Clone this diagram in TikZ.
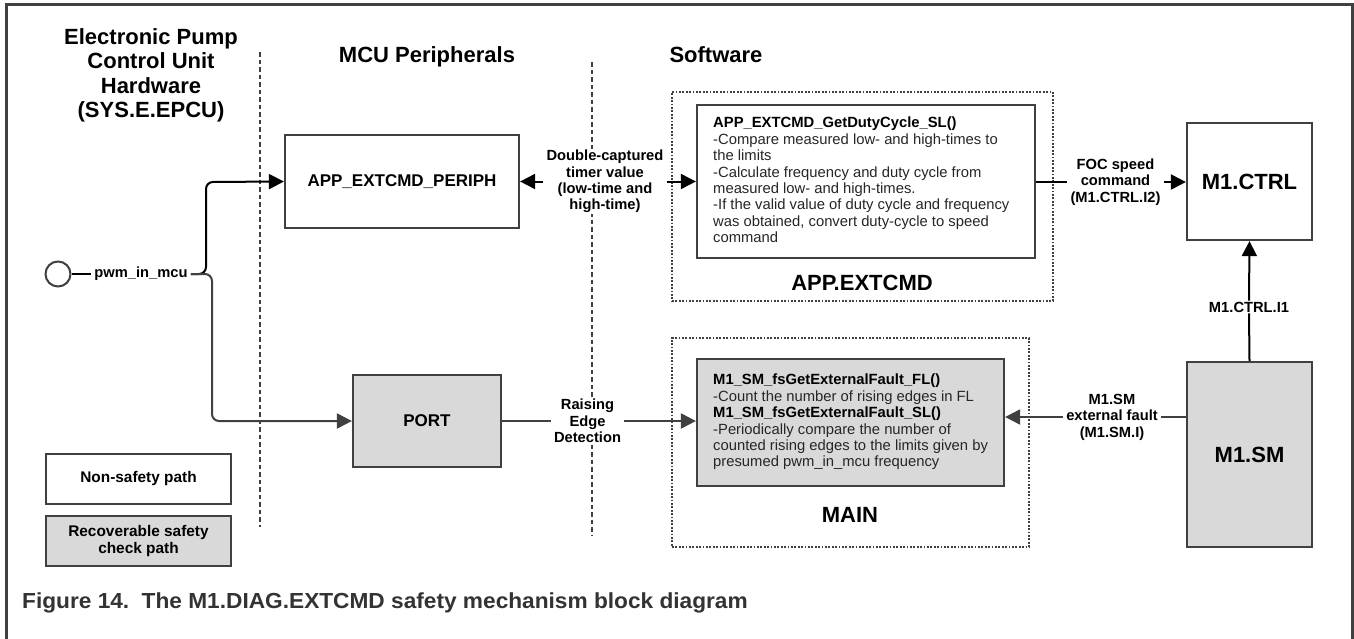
\documentclass[tikz,border=0pt]{standalone}
\usepackage{fontspec}
\setmainfont{Liberation Sans}
\usetikzlibrary{arrows.meta}
\definecolor{dg}{HTML}{404040}
\definecolor{lg}{HTML}{D9D9D9}
\definecolor{txt}{HTML}{262626}
\definecolor{capc}{HTML}{333333}
\tikzset{
  titletext/.style={font=\fontsize{22}{24.5}\selectfont\bfseries, align=center, inner sep=0pt},
  box/.style={draw=dg, line width=2.2pt, inner sep=0pt, font=\fontsize{17}{20}\selectfont\bfseries},
  bigbox/.style={box, font=\fontsize{22}{24}\selectfont\bfseries},
  legbox/.style={draw=dg, line width=2pt, inner sep=0pt, align=center, font=\fontsize{15.4}{16.5}\selectfont\bfseries},
  dotbox/.style={draw=dg, line width=1.8pt, dash pattern=on 1.8pt off 1.6pt, inner sep=0pt},
  body/.style={font=\fontsize{14.8}{16.4}\selectfont, align=left, inner sep=0pt, text=txt},
  lab/.style={font=\fontsize{14.7}{16.4}\selectfont\bfseries, align=center, fill=white, inner xsep=3pt, inner ysep=1pt},
  sepline/.style={dg, line width=1.2pt, dash pattern=on 4.5pt off 3pt},
  conn/.style={black, line width=2pt},
  conng/.style={dg, line width=2pt},
  tipk/.style={-{Triangle[length=15pt,width=15pt]}},
  tipg/.style={-{Triangle[length=15pt,width=15pt]}},
}
\begin{document}
\begin{tikzpicture}[x=1pt,y=-1pt]
\useasboundingbox[fill=white] (0,0) rectangle (1354,638);
% frame
\draw[dg, line width=3pt] (6,645) -- (6,4) -- (1352,4) -- (1352,645);

% separators
\coordinate (s1t) at (260,52);
\coordinate (s1b) at (260,527);
\coordinate (s2t) at (592,62);
\coordinate (s2b) at (592,535);
\draw[sepline] (s1t) -- (s1b);
\draw[sepline] (s2t) -- (s2b);

% titles
\node[titletext] (hw) at (151,75.5) {Electronic Pump\\Control Unit\\Hardware\\(SYS.E.EPCU)};
\node[titletext, anchor=base] (mcu) at (427,62.5) {MCU Peripherals};
\node[titletext, anchor=base] (sw) at (716,62.5) {Software};

% dotted groups
\node[dotbox, minimum width=381pt, minimum height=209pt] (appx) at (862.5,196.5) {};
\node[titletext, anchor=base] (appxl) at (862,290) {APP.EXTCMD};
\node[dotbox, minimum width=357pt, minimum height=209pt] (mainx) at (850.5,442.5) {};
\node[titletext, anchor=base] (mainxl) at (850,522) {MAIN};

% boxes
\node[box, minimum width=234pt, minimum height=93pt] (periph) at (402,181.5) {APP\_EXTCMD\_PERIPH};
\node[box, fill=lg, minimum width=148pt, minimum height=92pt] (port) at (427,421) {PORT};
\node[box, minimum width=338pt, minimum height=153pt] (app) at (866,181.5) {};
\node[body, anchor=north west] (apptxt) at (713,117) {\textbf{\textcolor{black}{APP\_EXTCMD\_GetDutyCycle\_SL()}}\\
-Compare measured low- and high-times to\\
the limits\\
-Calculate frequency and duty cycle from\\
measured low- and high-times.\\
-If the valid value of duty cycle and frequency\\
was obtained, convert duty-cycle to speed\\
command};
\node[box, fill=lg, minimum width=307pt, minimum height=127pt] (main) at (850.5,422.5) {};
\node[body, anchor=north west] (maintxt) at (713,374) {\textbf{\textcolor{black}{M1\_SM\_fsGetExternalFault\_FL()}}\\
-Count the number of rising edges in FL\\
\textbf{\textcolor{black}{M1\_SM\_fsGetExternalFault\_SL()}}\\
-Periodically compare the number of\\
counted rising edges to the limits given by\\
presumed pwm\_in\_mcu frequency};
\node[bigbox, minimum width=125pt, minimum height=117pt] (ctrl) at (1249.5,181.5) {M1.CTRL};
\node[bigbox, fill=lg, minimum width=125pt, minimum height=185pt] (sm) at (1249.5,454.5) {M1.SM};

% legend
\node[legbox, minimum width=185pt, minimum height=50pt] (leg1) at (138.5,479) {Non-safety path};
\node[legbox, fill=lg, minimum width=185pt, minimum height=50pt] (leg2) at (138.5,541) {Recoverable safety\\check path};

% input
\node[draw=dg, circle, line width=2pt, minimum size=25pt, inner sep=0pt] (pin) at (58,274) {};
\node[lab, fill=none] (pwm) at (141,274) {pwm\_in\_mcu};
\draw[conn] (pin.east) -- (pwm.west);
\draw[conn, tipk, rounded corners=7pt] (pwm.east) -| (206,182) -- (periph.west);
\draw[conng, tipg, rounded corners=7pt] (pwm.east) -| (212,421) -- (port.west);

% labels
\node[lab] (dc) at (605,181.5) {Double-captured\\timer value\\(low-time and\\high-time)};
\node[lab] (red) at (587.5,421) {Raising\\Edge\\Detection};
\node[lab] (foc) at (1115.5,182) {FOC speed\\command\\(M1.CTRL.I2)};
\node[lab] (ext) at (1112,417) {M1.SM\\external fault\\(M1.SM.I)};
\node[lab] (i1) at (1249,307) {M1.CTRL.I1};

% connectors
\draw[conn, tipk] (dc.west) -- (dc.west -| periph.east);
\draw[conn, tipk] (dc.east) -- (dc.east -| app.west);
\draw[conn] (foc.west -| app.east) -- (foc.west);
\draw[conn, tipk] (foc.east) -- (foc.east -| ctrl.west);
\draw[conng] (red.west -| port.east) -- (red.west);
\draw[conng, tipg] (red.east) -- (red.east -| main.west);
\draw[conng] (ext.east -| sm.west) -- (ext.east);
\draw[conng, tipg] (ext.west) -- (ext.west -| main.east);
\draw[conn] (sm.north) -- (i1.south);
\draw[conn, tipk] (i1.north) -- (ctrl.south);

% caption
\node[anchor=base west, inner sep=0pt, text=capc, font=\fontsize{21.8}{24}\selectfont\bfseries] (cap) at (22,608) {\scalebox{1.04}[1]{Figure 14.\hspace{0.55em}The M1.DIAG.EXTCMD safety mechanism block diagram}};
\end{tikzpicture}
\end{document}
